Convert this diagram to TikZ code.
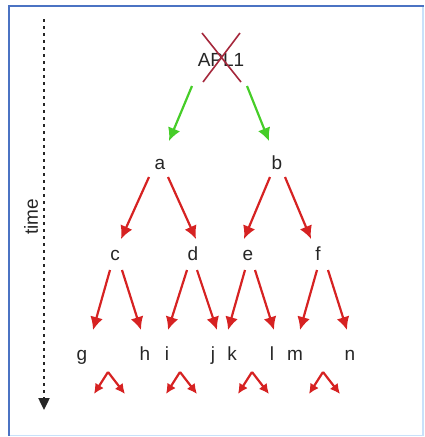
\documentclass[tikz,border=0pt]{standalone}
\usepackage{fontspec}
\setmainfont{Liberation Sans}
\usetikzlibrary{arrows.meta}
\definecolor{myred}{RGB}{214,34,34}
\definecolor{mygreen}{RGB}{70,205,40}
\definecolor{crossred}{RGB}{165,40,60}
\definecolor{frameblue}{RGB}{75,115,195}
\definecolor{framelight}{RGB}{200,225,250}
\tikzset{
  lbl/.style={inner sep=0pt, anchor=base, font=\fontsize{19}{19}\selectfont, text=black!85},
  redarr/.style={draw=myred, line width=2.2pt, -{Latex[length=13pt,width=13pt]}},
  greenarr/.style={draw=mygreen, line width=2.2pt, -{Latex[length=13pt,width=13pt]}},
  smallarr/.style={draw=myred, line width=2.2pt, -{Latex[length=10pt,width=10pt]}},
}
\begin{document}
\begin{tikzpicture}[x=1pt,y=-1pt]
\useasboundingbox (0,0) rectangle (425,437);
% frame
\draw[framelight, line width=1.5pt] (423,5.5) -- (423,435.5) -- (9,435.5);
\draw[frameblue, line width=2pt] (9,435.5) -- (9,5.5) -- (424,5.5);
% time axis
\coordinate (t0) at (44,19);
\coordinate (t1) at (44,410);
\draw[black!85, line width=2.4pt, dash pattern=on 3pt off 4pt, -{Triangle[length=12pt,width=11pt]}] (t0) -- (t1);
\node[lbl, rotate=90, anchor=center] (time) at (31,217) {time};
% labels
\node[lbl] (apl) at (221,66) {APL1};
\node[lbl] (a) at (160,169) {a};
\node[lbl] (b) at (277,169) {b};
\node[lbl] (c) at (115,260) {c};
\node[lbl] (d) at (193,260) {d};
\node[lbl] (e) at (248,260) {e};
\node[lbl] (f) at (318,260) {f};
\node[lbl] (g) at (82,360) {g};
\node[lbl] (h) at (145,360) {h};
\node[lbl] (i) at (167,360) {i};
\node[lbl] (j) at (213,360) {j};
\node[lbl] (k) at (232,360) {k};
\node[lbl] (l) at (272,360) {l};
\node[lbl] (m) at (295,360) {m};
\node[lbl] (n) at (350,360) {n};
% cross over APL1
\coordinate (x1) at (202,33);
\coordinate (x2) at (241,82);
\coordinate (x3) at (240,33);
\coordinate (x4) at (203,82);
\draw[crossred, line width=1.6pt] (x1) -- (x2) (x3) -- (x4);
% green arrows
\coordinate (ga1) at (192,86); \coordinate (ga2) at (169,141);
\coordinate (gb1) at (247,86); \coordinate (gb2) at (269,141);
\draw[greenarr] (ga1) -- (ga2);
\draw[greenarr] (gb1) -- (gb2);
% level 2 arrows
\coordinate (ac1) at (149,177); \coordinate (ac2) at (121,239);
\coordinate (ad1) at (168,177); \coordinate (ad2) at (196,239);
\coordinate (be1) at (270,177); \coordinate (be2) at (244,239);
\coordinate (bf1) at (285,177); \coordinate (bf2) at (311,239);
\draw[redarr] (ac1) -- (ac2);
\draw[redarr] (ad1) -- (ad2);
\draw[redarr] (be1) -- (be2);
\draw[redarr] (bf1) -- (bf2);
% level 3 arrows
\coordinate (cg1) at (110,270); \coordinate (cg2) at (93,330);
\coordinate (ch1) at (122,270); \coordinate (ch2) at (141,330);
\coordinate (di1) at (187,270); \coordinate (di2) at (168,330);
\coordinate (dj1) at (197,270); \coordinate (dj2) at (217,330);
\coordinate (ek1) at (245,270); \coordinate (ek2) at (228,330);
\coordinate (el1) at (255,270); \coordinate (el2) at (274,330);
\coordinate (fm1) at (317,270); \coordinate (fm2) at (300,330);
\coordinate (fn1) at (328,270); \coordinate (fn2) at (347,330);
\draw[redarr] (cg1) -- (cg2);
\draw[redarr] (ch1) -- (ch2);
\draw[redarr] (di1) -- (di2);
\draw[redarr] (dj1) -- (dj2);
\draw[redarr] (ek1) -- (ek2);
\draw[redarr] (el1) -- (el2);
\draw[redarr] (fm1) -- (fm2);
\draw[redarr] (fn1) -- (fn2);
% small bottom arrow pairs
\foreach \px/\nm in {108/p1,180/p2,252/p3,323/p4}{
  \coordinate (\nm) at (\px,372);
  \coordinate (\nm l) at (\px-14,394);
  \coordinate (\nm r) at (\px+17,394);
  \draw[smallarr] (\nm) -- (\nm l);
  \draw[smallarr] (\nm) -- (\nm r);
}
\end{tikzpicture}
\end{document}
